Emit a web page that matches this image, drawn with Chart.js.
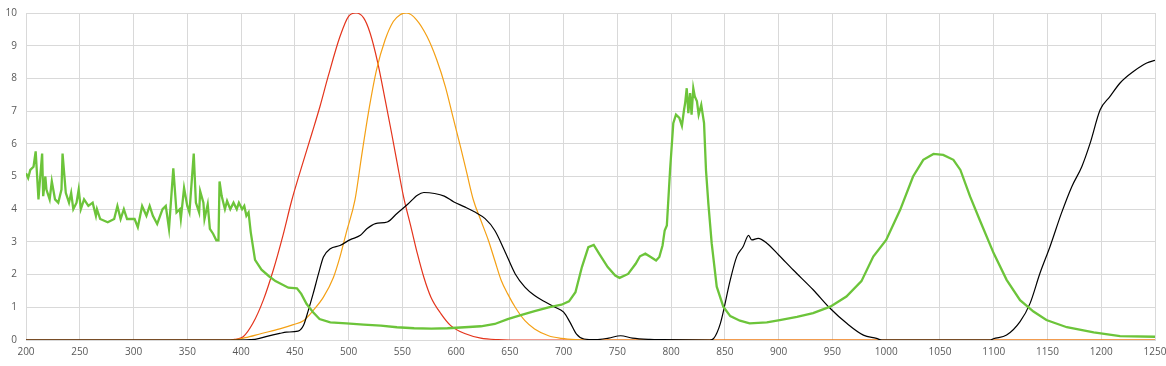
<!DOCTYPE html>
<html>
<head>
<meta charset="utf-8">
<script src="https://cdn.jsdelivr.net/npm/chart.js@4/dist/chart.umd.min.js"></script>
<style>
  html, body { margin: 0; padding: 0; background: #ffffff; }
  #wrap { width: 1166px; height: 366px; }
</style>
</head>
<body>
<div id="wrap"><canvas id="spectrum"></canvas></div>
<script>
// axis ticks
const xTicks = [200, 1250, 50];
const yTicks = [0, 10, 1];

// green spectrum (thick line)
const greenX = [200, 202, 204, 207, 209, 211.6, 213, 215, 216, 218, 219, 222, 224, 227, 230, 233, 234, 237, 240, 242,
  244, 247, 249, 251, 254, 258, 262, 265, 266, 269, 276, 282, 285, 288, 291, 294, 301, 304, 308, 312,
  315, 318, 322, 327, 330, 333, 337, 340, 343, 344, 347, 350, 352, 356, 358, 361, 362, 365, 366, 369,
  371, 374, 377, 379, 380, 382, 385, 387, 390, 393, 396, 398, 401, 403, 405, 407, 409, 413, 419, 426,
  432, 444, 452, 456, 461, 467, 473, 483, 498, 514, 530, 545, 561, 577, 592, 608, 623, 636, 648, 661,
  673, 686, 698, 705, 711, 717, 723, 728, 733, 741, 748, 752, 760, 767, 771, 776, 781, 786, 789, 792,
  794, 796, 799, 802, 804.5, 807.6, 810, 812, 813, 814.5, 816, 817.6, 819, 820.6, 822, 824, 825.6, 828, 830.6, 832.4,
  834.6, 837.7, 842.4, 848.5, 855, 864, 873, 889, 901, 917, 932, 948, 963, 977, 988, 1000, 1013, 1025, 1034.5, 1044,
  1053, 1062.5, 1069, 1078, 1087, 1100, 1112, 1124.5, 1137, 1149, 1168, 1193, 1217.5, 1250];
const greenY = [5.1, 4.95, 5.2, 5.3, 5.77, 4.3, 4.9, 5.7, 4.4, 5.0, 4.6, 4.3, 4.85, 4.3, 4.2, 4.6, 5.7, 4.5, 4.2, 4.5,
  4.0, 4.2, 4.6, 4.0, 4.3, 4.1, 4.2, 3.8, 4.0, 3.7, 3.6, 3.7, 4.1, 3.7, 4.0, 3.7, 3.7, 3.45, 4.1, 3.8,
  4.1, 3.8, 3.55, 4.0, 4.1, 3.4, 5.25, 3.9, 4.0, 3.7, 4.65, 4.1, 3.9, 5.7, 4.2, 3.9, 4.55, 4.2, 3.7, 4.15,
  3.4, 3.25, 3.05, 3.05, 4.85, 4.4, 4.0, 4.25, 4.0, 4.2, 4.0, 4.2, 4.0, 4.1, 3.8, 3.9, 3.3, 2.45, 2.15, 1.95,
  1.8, 1.6, 1.58, 1.41, 1.1, 0.85, 0.64, 0.54, 0.51, 0.47, 0.44, 0.39, 0.36, 0.35, 0.36, 0.39, 0.42, 0.49, 0.64, 0.77,
  0.88, 1.0, 1.08, 1.18, 1.46, 2.23, 2.84, 2.91, 2.64, 2.23, 1.97, 1.9, 2.02, 2.33, 2.56, 2.64, 2.54, 2.43, 2.54, 2.89,
  3.35, 3.5, 5.2, 6.63, 6.89, 6.79, 6.55, 7.04, 7.24, 7.7, 6.94, 7.55, 6.89, 7.7, 7.45, 7.3, 6.89, 7.19, 6.63, 5.2,
  4.18, 2.96, 1.63, 1.02, 0.73, 0.59, 0.51, 0.54, 0.61, 0.71, 0.82, 1.02, 1.33, 1.8, 2.55, 3.06, 3.98, 5.0, 5.51, 5.69,
  5.66, 5.51, 5.2, 4.39, 3.67, 2.65, 1.84, 1.22, 0.87, 0.61, 0.39, 0.23, 0.12, 0.1];

// black curve
const blackX = [200, 394, 413, 425, 436, 442, 453, 458, 462.5, 467, 472, 476.6, 483, 492, 501.6, 511, 517, 525, 536, 545,
  555, 564, 570, 580, 589, 598, 608, 617, 627, 636, 645, 655, 664, 673, 683, 692, 700, 706, 712, 719,
  730, 742, 753, 764, 780, 792, 836, 839.6, 845.8, 855, 861, 867, 872, 875, 881, 889, 900, 913.6, 932.3, 947.8,
  963.3, 978.8, 991, 996, 1097, 1099.7, 1112, 1124.5, 1133.8, 1143, 1152.4, 1163, 1172.6, 1181.9, 1189.7, 1199, 1208.2, 1217.5, 1229.9, 1242.3,
  1250];
const blackY = [0, 0, 0.02, 0.12, 0.2, 0.24, 0.27, 0.44, 0.9, 1.41, 2.02, 2.54, 2.79, 2.89, 3.07, 3.2, 3.4, 3.56, 3.61, 3.87,
  4.15, 4.43, 4.51, 4.48, 4.4, 4.22, 4.07, 3.92, 3.71, 3.35, 2.74, 2.02, 1.62, 1.36, 1.16, 1.0, 0.85, 0.54, 0.18, 0.03,
  0.01, 0.06, 0.13, 0.06, 0.02, 0.01, 0, 0.05, 0.51, 1.84, 2.55, 2.86, 3.2, 3.06, 3.11, 2.96, 2.6, 2.14, 1.53, 0.97,
  0.51, 0.15, 0.05, 0, 0, 0.04, 0.15, 0.56, 1.12, 2.04, 2.86, 3.88, 4.69, 5.3, 6.02, 7.04, 7.45, 7.86, 8.21, 8.47,
  8.55];

// orange curve
const orangeX = [200, 391, 404, 419, 436, 448.6, 458, 467, 476.6, 486, 492, 498, 506, 512, 518.4, 526, 534, 541.6, 548, 554,
  563, 573, 582, 590, 597, 604, 610, 616, 623, 630, 636, 642, 648, 655, 664, 673, 686, 698, 711, 720,
  1250];
const orangeY = [0, 0, 0.07, 0.2, 0.34, 0.47, 0.59, 0.9, 1.31, 1.92, 2.54, 3.3, 4.29, 5.6, 6.94, 8.26, 9.18, 9.74, 9.95, 10.0,
  9.8, 9.28, 8.57, 7.75, 6.83, 5.92, 5.1, 4.29, 3.66, 3.05, 2.43, 1.82, 1.41, 1.0, 0.59, 0.34, 0.13, 0.05, 0.01, 0,
  0];

// red curve
const redX = [200, 390, 394, 402, 411, 420.7, 430, 439, 447, 455, 466, 473.4, 481, 492, 500, 507, 514, 520, 527, 534,
  540, 545, 551, 558, 564, 570, 576.6, 586, 595, 608, 623, 639, 650, 1250];
const redY = [0, 0, 0.02, 0.1, 0.51, 1.22, 2.14, 3.2, 4.25, 5.15, 6.33, 7.14, 8.06, 9.28, 9.9, 10.0, 9.85, 9.39, 8.5, 7.35,
  6.33, 5.45, 4.4, 3.46, 2.64, 1.92, 1.31, 0.8, 0.44, 0.2, 0.06, 0.01, 0, 0];

function toPoints(xs, ys) {
  return xs.map((x, i) => ({ x: x, y: ys[i] }));
}

const labelFont = { family: 'Open Sans', size: 10 };
const gridColor = '#d9d9d9';

new Chart(document.getElementById('spectrum'), {
  type: 'line',
  data: {
    datasets: [
      {
        label: 'Green',
        data: toPoints(greenX, greenY),
        borderColor: 'rgb(108, 196, 58)',
        borderWidth: 2.3,
        tension: 0,
        pointRadius: 0
      },
      {
        label: 'Black',
        data: toPoints(blackX, blackY),
        borderColor: '#000000',
        borderWidth: 1.2,
        cubicInterpolationMode: 'monotone',
        pointRadius: 0
      },
      {
        label: 'Orange',
        data: toPoints(orangeX, orangeY),
        borderColor: 'rgb(244, 160, 20)',
        borderWidth: 1.2,
        cubicInterpolationMode: 'monotone',
        pointRadius: 0
      },
      {
        label: 'Red',
        data: toPoints(redX, redY),
        borderColor: 'rgb(228, 52, 28)',
        borderWidth: 1.2,
        cubicInterpolationMode: 'monotone',
        pointRadius: 0
      }
    ]
  },
  options: {
    responsive: true,
    maintainAspectRatio: false,
    animation: false,
    layout: { padding: { left: 0, right: 11, top: 13, bottom: 0 } },
    plugins: {
      legend: { display: false },
      tooltip: { enabled: false }
    },
    scales: {
      x: {
        type: 'linear',
        min: xTicks[0],
        max: xTicks[1],
        afterFit: scale => {
          // keep plot edges where the reference has them
          scale.height = 26;
          scale.paddingLeft = 0;
          scale.paddingRight = 0;
        },
        ticks: {
          stepSize: xTicks[2],
          color: '#595959',
          font: labelFont,
          padding: 6,
          maxRotation: 0,
          callback: value => String(value)
        },
        grid: { color: gridColor, drawTicks: false },
        border: { color: gridColor }
      },
      y: {
        min: yTicks[0],
        max: yTicks[1],
        afterFit: scale => {
          scale.width = 26;
          scale.paddingTop = 0;
          scale.paddingBottom = 0;
        },
        ticks: { stepSize: yTicks[2], color: '#595959', font: labelFont, padding: 9 },
        grid: { color: gridColor, drawTicks: false },
        border: { color: gridColor }
      }
    }
  }
});
</script>
</body>
</html>
